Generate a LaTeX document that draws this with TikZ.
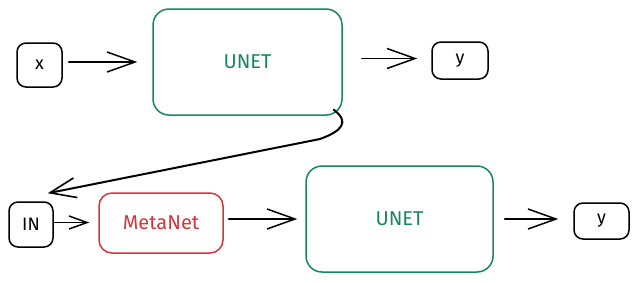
\documentclass[tikz,border=0pt]{standalone}
\usepackage{fontspec}
\setmainfont{Fira Sans}
\usetikzlibrary{arrows.meta}
\definecolor{netgreen}{HTML}{16895C}
\definecolor{netred}{HTML}{D0363A}
\begin{document}
\begin{tikzpicture}[x=1pt,y=-1pt,
  box/.style={draw=black, line width=1.5pt, rounded corners=9pt, inner sep=0pt,
    font=\fontsize{18}{21}\selectfont},
  bignet/.style={draw=netgreen, text=netgreen, line width=1.5pt, rounded corners=16pt,
    inner sep=0pt, font=\fontsize{20}{24}\selectfont},
  metabox/.style={draw=netred, text=netred, line width=1.5pt, rounded corners=13pt,
    inner sep=0pt, font=\fontsize{20}{24}\selectfont},
  flow/.style={line width=1.5pt, line cap=round, line join=round,
    -{Straight Barb[length=28pt,width=20pt,line width=1.5pt]}},
  smallflow/.style={line width=1.5pt, line cap=round, line join=round,
    -{Straight Barb[length=18pt,width=13pt,line width=1.5pt]}},
  back/.style={line width=2pt, line cap=round, line join=round,
    -{Straight Barb[length=26pt,width=20pt,line width=1.6pt]}}]
\useasboundingbox (0,0) rectangle (639,282);

% upper chain
\node[box, minimum width=45pt, minimum height=44pt] (xin) at (39.5,65) {x};
\node[bignet, minimum width=189pt, minimum height=106pt] (unetA) at (247.5,62) {UNET};
\node[box, minimum width=56pt, minimum height=37pt] (yA) at (460,60.5) {y};

% lower chain
\node[box, minimum width=44pt, minimum height=45pt] (inp) at (31,224.5) {IN};
\node[metabox, minimum width=124pt, minimum height=60pt] (meta) at (161,223) {MetaNet};
\node[bignet, minimum width=187pt, minimum height=106pt] (unetB) at (399.5,219) {UNET};
\node[box, minimum width=55pt, minimum height=36pt] (yB) at (601.5,221) {y};

% forward arrows
\draw[flow, shorten <=6pt, shorten >=15pt] (xin.east |- unetA.west) -- (unetA.west);
\draw[flow, shorten <=19pt, shorten >=14pt] ([yshift=2pt]unetA.east |- yA.west) -- ([yshift=2pt]yA.west);
\draw[smallflow, shorten >=9pt] ([yshift=2pt]inp.east) -- ([yshift=2pt]inp.east -| meta.west);
\draw[flow, shorten <=5pt, shorten >=8pt] (meta.east |- unetB.west) -- (unetB.west);
\draw[flow, shorten <=11pt, shorten >=15pt] (unetB.east) -- (unetB.east -| yB.west);

% feedback from the upper UNET to the lower input
\draw[back] ([xshift=-9pt,yshift=6pt]unetA.south east)
  .. controls (350,122) and (342,131) .. (320,139)
  -- ([xshift=-6pt,yshift=8pt]inp.north east);
\end{tikzpicture}
\end{document}
